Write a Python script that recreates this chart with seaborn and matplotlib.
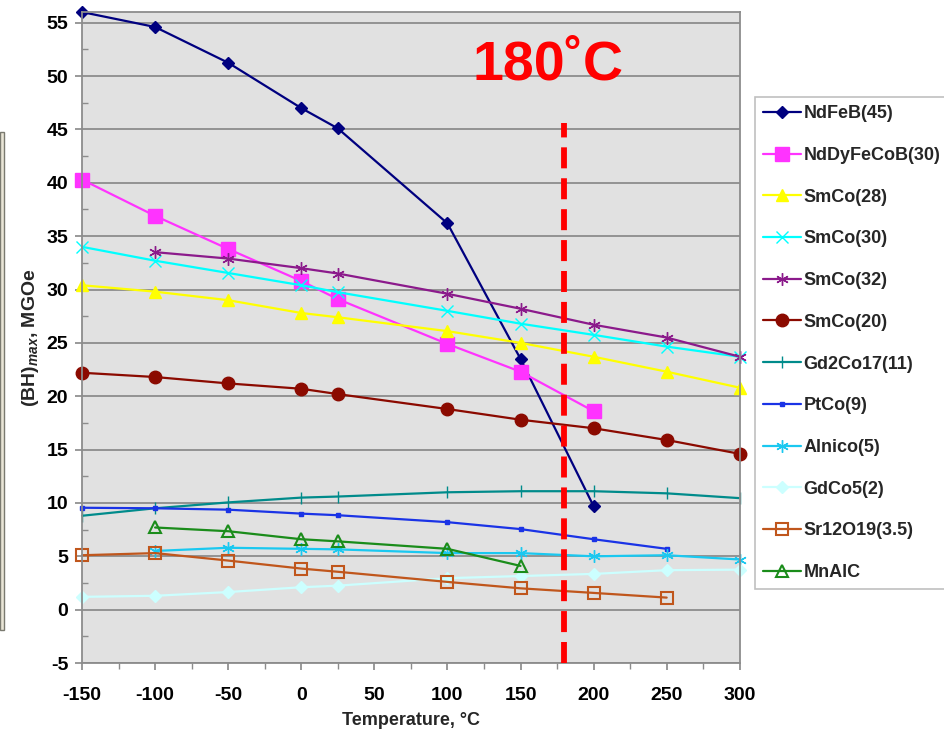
import numpy as np
import pandas as pd
import seaborn as sns
import matplotlib
matplotlib.use("Agg")
from matplotlib import pyplot as plt
from matplotlib.patches import Rectangle

# temperatures (°C) and (BH)max (MGOe)
temps = [-150, -100, -50, 0, 25, 100, 150, 200, 250, 300]
nan = np.nan

ndfeb = [56.0, 54.6, 51.25, 47.0, 45.1, 36.2, 23.5, 9.7, nan, nan]
ndDyFeCoB = [40.3, 36.9, 33.8, 30.8, 29.1, 24.9, 22.3, 18.6, nan, nan]
smco28 = [30.4, 29.8, 29.0, 27.8, 27.4, 26.1, 25.0, 23.7, 22.3, 20.8]
smco30 = [34.0, 32.7, 31.55, 30.4, 29.75, 28.0, 26.8, 25.75, 24.65, 23.7]
smco32 = [nan, 33.5, 32.9, 32.0, 31.5, 29.6, 28.2, 26.7, 25.5, 23.7]
smco20 = [22.2, 21.8, 21.2, 20.7, 20.2, 18.8, 17.8, 17.0, 15.9, 14.6]
gd2co17 = [8.8, 9.5, 10.05, 10.5, 10.6, 11.0, 11.1, 11.1, 10.9, 10.45]
ptco = [9.55, 9.5, 9.37, 9.0, 8.85, 8.2, 7.55, 6.6, 5.7, nan]
alnico = [nan, 5.5, 5.8, 5.7, 5.65, 5.3, 5.3, 5.0, 5.1, 4.7]
gdco5 = [1.2, 1.3, 1.65, 2.1, 2.25, 2.95, 3.15, 3.35, 3.7, 3.75]
sr12o19 = [5.1, 5.3, 4.6, 3.85, 3.55, 2.6, 2.0, 1.57, 1.13, nan]
mnalc = [nan, 7.7, 7.35, 6.6, 6.4, 5.7, 4.1, nan, nan, nan]

labels = ["NdFeB(45)", "NdDyFeCoB(30)", "SmCo(28)", "SmCo(30)", "SmCo(32)", "SmCo(20)",
          "Gd2Co17(11)", "PtCo(9)", "Alnico(5)", "GdCo5(2)", "Sr12O19(3.5)", "MnAlC"]
values = [ndfeb, ndDyFeCoB, smco28, smco30, smco32, smco20,
          gd2co17, ptco, alnico, gdco5, sr12o19, mnalc]

cutoff_temp = 180
cutoff_top = 45.6

# colour, marker, size, filled
styles = [
    ("#00007F", "D", 6, True),
    ("#FF33FF", "s", 10, True),
    ("#FFFF00", "^", 9, True),
    ("#00FFFF", "x", 8, True),
    ("#8B1A8B", (6, 2, 0), 9, True),
    ("#8B0A00", "o", 9, True),
    ("#008B8B", "|", 8, True),
    ("#1A33E6", "s", 3, True),
    ("#1AC8F0", (6, 2, 0), 9, True),
    ("#CCFFFF", "D", 6, True),
    ("#C0561C", "s", 9, False),
    ("#1A8C1A", "^", 9, False),
]

sns.set_theme(style="ticks")
plt.rcParams["font.family"] = ["Liberation Sans", "DejaVu Sans"]
plt.rcParams["font.weight"] = "bold"
plt.rcParams["axes.labelweight"] = "bold"
plt.rcParams["axes.unicode_minus"] = False
plt.rcParams["mathtext.fontset"] = "custom"
plt.rcParams["mathtext.it"] = "Liberation Sans:italic"
plt.rcParams["mathtext.rm"] = "Liberation Sans:bold"

fig = plt.figure(figsize=(9.45, 7.31), dpi=100)
ax = fig.add_axes([0.0868, 0.093, 0.696, 0.8905])
ax.set_facecolor("#E1E1E1")

handles = []
for lab, vals, (col, mk, ms, filled) in zip(labels, values, styles):
    df = pd.DataFrame({"temp": temps, "bh": vals}).dropna()
    sns.lineplot(data=df, x="temp", y="bh", ax=ax, color=col, lw=1.6,
                 marker=mk, markersize=ms, markeredgewidth=1.5 if not filled else 1.0,
                 markerfacecolor=col if filled else "none", markeredgecolor=col,
                 label=lab, legend=False, sort=False, clip_on=False)
    handles.append(ax.lines[-1])

# 180 °C limit
ax.vlines(cutoff_temp, -5, cutoff_top, colors="#FF0000", lw=4.2,
          linestyles=(0, (3.6, 1.7)), zorder=5)
ax.text(169, 51.0, "180˚C", color="#FF0000", fontsize=40, fontweight="bold",
        ha="center", va="center")

ax.set_xlim(-150, 300)
ax.set_ylim(-5, 56)
ax.set_xticks(np.arange(-150, 301, 50))
ax.set_xticks(np.arange(-150, 301, 25), minor=True)
ax.set_yticks(np.arange(-5, 56, 5))
ax.set_yticks(np.arange(-5, 56, 2.5), minor=True)
ax.yaxis.grid(True, color="#8C8C8C", lw=1.3)
ax.set_axisbelow(True)
for s in ax.spines.values():
    s.set_color("#8C8C8C")
    s.set_linewidth(1.3)
ax.tick_params(axis="both", which="both", colors="#8C8C8C", labelcolor="black")
ax.tick_params(axis="x", which="major", length=5, pad=12, labelsize=14)
ax.tick_params(axis="x", which="minor", length=4)
ax.tick_params(axis="y", which="major", length=5, pad=5, labelsize=14)
ax.tick_params(axis="y", which="minor", length=4, direction="in")

ax.set_xlabel("Temperature, °C", fontsize=13, labelpad=6)
ax.set_ylabel(r"(BH)$_{max}$, MGOe", fontsize=14, labelpad=4)

leg = fig.legend(handles, labels, loc="upper left", bbox_to_anchor=(755 / 945, 1 - 97 / 731),
                 borderaxespad=0, frameon=True, fancybox=False, fontsize=13,
                 labelspacing=1.37, handlelength=2.1, borderpad=0.45, handletextpad=0.15)
leg.get_frame().set_edgecolor("#B0B0B0")
leg.get_frame().set_linewidth(1.2)

# edge of the neighbouring picture on the far left
fig.patches.append(Rectangle((0, 0.138), 4 / 945, 0.681, transform=fig.transFigure,
                             facecolor="#E9E5D6", edgecolor="#7A7A70", lw=1.0))

fig.savefig("out.png", dpi=100)
